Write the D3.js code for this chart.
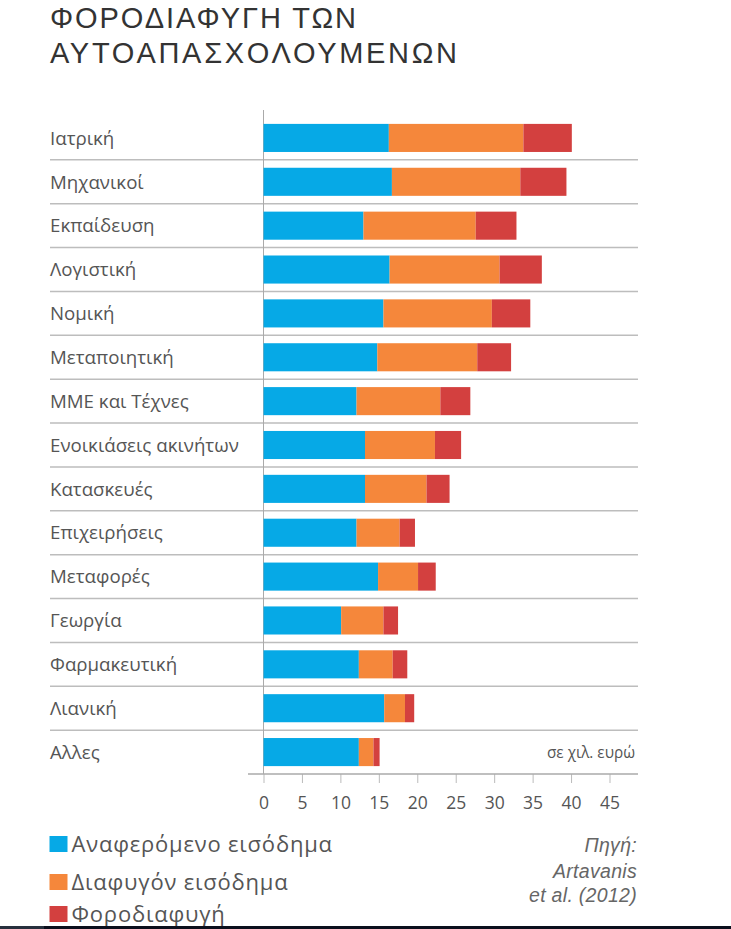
<!DOCTYPE html>
<html lang="el">

<head>
    <meta charset="UTF-8">
    <meta name="viewport" content="width=device-width, initial-scale=1.0">
    <title>Φοροδιαφυγή των αυτοαπασχολουμένων</title>
    <style>
        html, body {
            margin: 0;
            padding: 0;
            background: #fff;
        }
        svg {
            display: block;
            font-family: 'Open Sans', 'Noto Sans', sans-serif;
        }
    </style>
</head>

<body>
    <script src="https://d3js.org/d3.v7.min.js"></script>
    <script>
        const categories = [
            'Ιατρική', 'Μηχανικοί', 'Εκπαίδευση', 'Λογιστική', 'Νομική',
            'Μεταποιητική', 'ΜΜΕ και Τέχνες', 'Ενοικιάσεις ακινήτων', 'Κατασκευές',
            'Επιχειρήσεις', 'Μεταφορές', 'Γεωργία', 'Φαρμακευτική', 'Λιανική', 'Αλλες'
        ];

        // thousand euros, one segment per series
        const reported = [16.3, 16.7, 13.0, 16.4, 15.6, 14.8, 12.1, 13.2, 13.2, 12.1, 14.9, 10.1, 12.4, 15.7, 12.4];
        const hidden = [17.5, 16.7, 14.6, 14.3, 14.1, 13.0, 10.9, 9.1, 8.0, 5.6, 5.2, 5.5, 4.4, 2.7, 1.9];
        const evasion = [6.3, 6.0, 5.3, 5.5, 5.0, 4.4, 3.9, 3.4, 3.0, 2.0, 2.3, 1.9, 1.9, 1.2, 0.8];

        const seriesNames = ['Αναφερόμενο εισόδημα', 'Διαφυγόν εισόδημα', 'Φοροδιαφυγή'];
        const seriesColors = ['#06a9e6', '#f5873b', '#d3403f'];
        const xTicks = [0, 5, 10, 15, 20, 25, 30, 35, 40, 45];

        const titleLines = ['ΦΟΡΟΔΙΑΦΥΓΗ ΤΩΝ', 'ΑΥΤΟΑΠΑΣΧΟΛΟΥΜΕΝΩΝ'];
        const sourceLines = ['Πηγή:', 'Artavanis', 'et al. (2012)'];
        const unitLabel = 'σε χιλ. ευρώ';

        const WIDTH = 731;
        const HEIGHT = 929;
        const LEFT = 50;
        const RIGHT = 638;
        const TEXT = '#555';

        const svg = d3.select('body')
            .append('svg')
            .attr('width', WIDTH)
            .attr('height', HEIGHT);

        // Title (Liberation has tighter line metrics, the two lines sit close)
        svg.selectAll('text.title')
            .data(titleLines)
            .enter()
            .append('text')
            .attr('class', 'title')
            .attr('x', LEFT)
            .attr('y', (d, i) => 28 + i * 35)
            .attr('textLength', (d, i) => i === 0 ? 306 : 407)
            .attr('lengthAdjust', 'spacing')
            .attr('fill', '#333')
            .style('font-family', "'Liberation Sans', Arial, sans-serif")
            .style('font-size', '29px')
            .text(d => d);

        const rows = categories.map((c, i) => {
            const vals = [reported[i], hidden[i], evasion[i]];
            let x0 = 0;
            return {
                name: c,
                parts: vals.map((v, k) => {
                    const p = { k: k, x0: x0, x1: x0 + v };
                    x0 += v;
                    return p;
                })
            };
        });

        const xScale = d3.scaleLinear()
            .domain([0, 45])
            .range([263.5, 609.5]);

        const yScale = d3.scaleBand()
            .domain(categories)
            .range([116, 774])
            .paddingInner(0.36)
            .paddingOuter(0.18);

        const gap = yScale.step() - yScale.bandwidth();

        // Row separators
        svg.append('g')
            .selectAll('line')
            .data(categories.slice(0, -1))
            .enter()
            .append('line')
            .attr('x1', LEFT)
            .attr('x2', RIGHT)
            .attr('y1', d => yScale(d) + yScale.bandwidth() + gap / 2)
            .attr('y2', d => yScale(d) + yScale.bandwidth() + gap / 2)
            .attr('stroke', '#bdbdbd')
            .attr('stroke-width', 1.5);

        // Zero line
        svg.append('line')
            .attr('x1', xScale(0))
            .attr('x2', xScale(0))
            .attr('y1', 110)
            .attr('y2', 774)
            .attr('stroke', '#aaa')
            .attr('stroke-width', 1);

        // Category labels
        svg.append('g')
            .selectAll('text')
            .data(categories)
            .enter()
            .append('text')
            .attr('x', LEFT)
            .attr('y', d => yScale(d) + yScale.bandwidth() / 2)
            .attr('dy', '0.36em')
            .attr('fill', TEXT)
            .style('font-size', '18.7px')
            .text(d => d);

        // Stacked bars
        svg.append('g')
            .selectAll('g')
            .data(rows)
            .enter()
            .append('g')
            .selectAll('rect')
            .data(d => d.parts.map(p => Object.assign({ name: d.name }, p)))
            .enter()
            .append('rect')
            .attr('x', d => xScale(d.x0))
            .attr('y', d => yScale(d.name))
            .attr('width', d => xScale(d.x1) - xScale(d.x0))
            .attr('height', yScale.bandwidth())
            .attr('fill', d => seriesColors[d.k]);

        // X axis
        const xAxis = svg.append('g')
            .attr('transform', 'translate(0, 774)')
            .call(
                d3.axisBottom(xScale)
                    .tickValues(xTicks)
                    .tickSize(9)
                    .tickSizeOuter(0)
                    .tickPadding(14)
            );

        xAxis.select('.domain').remove();
        xAxis.selectAll('.tick line').attr('stroke', '#bbb');
        xAxis.selectAll('.tick text')
            .attr('fill', TEXT)
            .style('font-size', '17.5px')
            .style('font-family', "'Open Sans', sans-serif");

        svg.append('line')
            .attr('x1', 248)
            .attr('x2', RIGHT)
            .attr('y1', 774)
            .attr('y2', 774)
            .attr('stroke', '#aaa')
            .attr('stroke-width', 1.5);

        // Unit label
        svg.append('text')
            .attr('x', 635)
            .attr('y', 758)
            .attr('text-anchor', 'end')
            .attr('textLength', 88)
            .attr('lengthAdjust', 'spacingAndGlyphs')
            .attr('fill', TEXT)
            .style('font-size', '16px')
            .text(unitLabel);

        // Legend
        const legend = svg.append('g')
            .selectAll('g')
            .data(seriesNames)
            .enter()
            .append('g')
            .attr('transform', (d, i) => `translate(49.5, ${[852, 890, 922][i]})`);

        legend.append('rect')
            .attr('x', 0)
            .attr('y', -16)
            .attr('width', 18)
            .attr('height', 16)
            .attr('fill', (d, i) => seriesColors[i]);

        legend.append('text')
            .attr('x', 22)
            .attr('y', 0)
            .attr('fill', TEXT)
            .style('font-size', '22px')
            .style('letter-spacing', '0.8px')
            .text(d => d);

        // Source
        svg.append('g')
            .selectAll('text')
            .data(sourceLines)
            .enter()
            .append('text')
            .attr('x', 637)
            .attr('y', (d, i) => [852, 878, 902][i])
            .attr('text-anchor', 'end')
            .attr('fill', '#666')
            .style('font-family', "'Liberation Sans', Arial, sans-serif")
            .style('font-size', '19.5px')
            .style('letter-spacing', '0.3px')
            .style('font-style', 'italic')
            .text(d => d);

        // Dark strip at the very bottom
        svg.append('rect')
            .attr('x', 0)
            .attr('y', 926)
            .attr('width', WIDTH)
            .attr('height', 3)
            .attr('fill', '#0b0f1c');
        svg.append('rect')
            .attr('x', 0)
            .attr('y', 926)
            .attr('width', 44)
            .attr('height', 3)
            .attr('fill', '#27303d');
    </script>
</body>

</html>
